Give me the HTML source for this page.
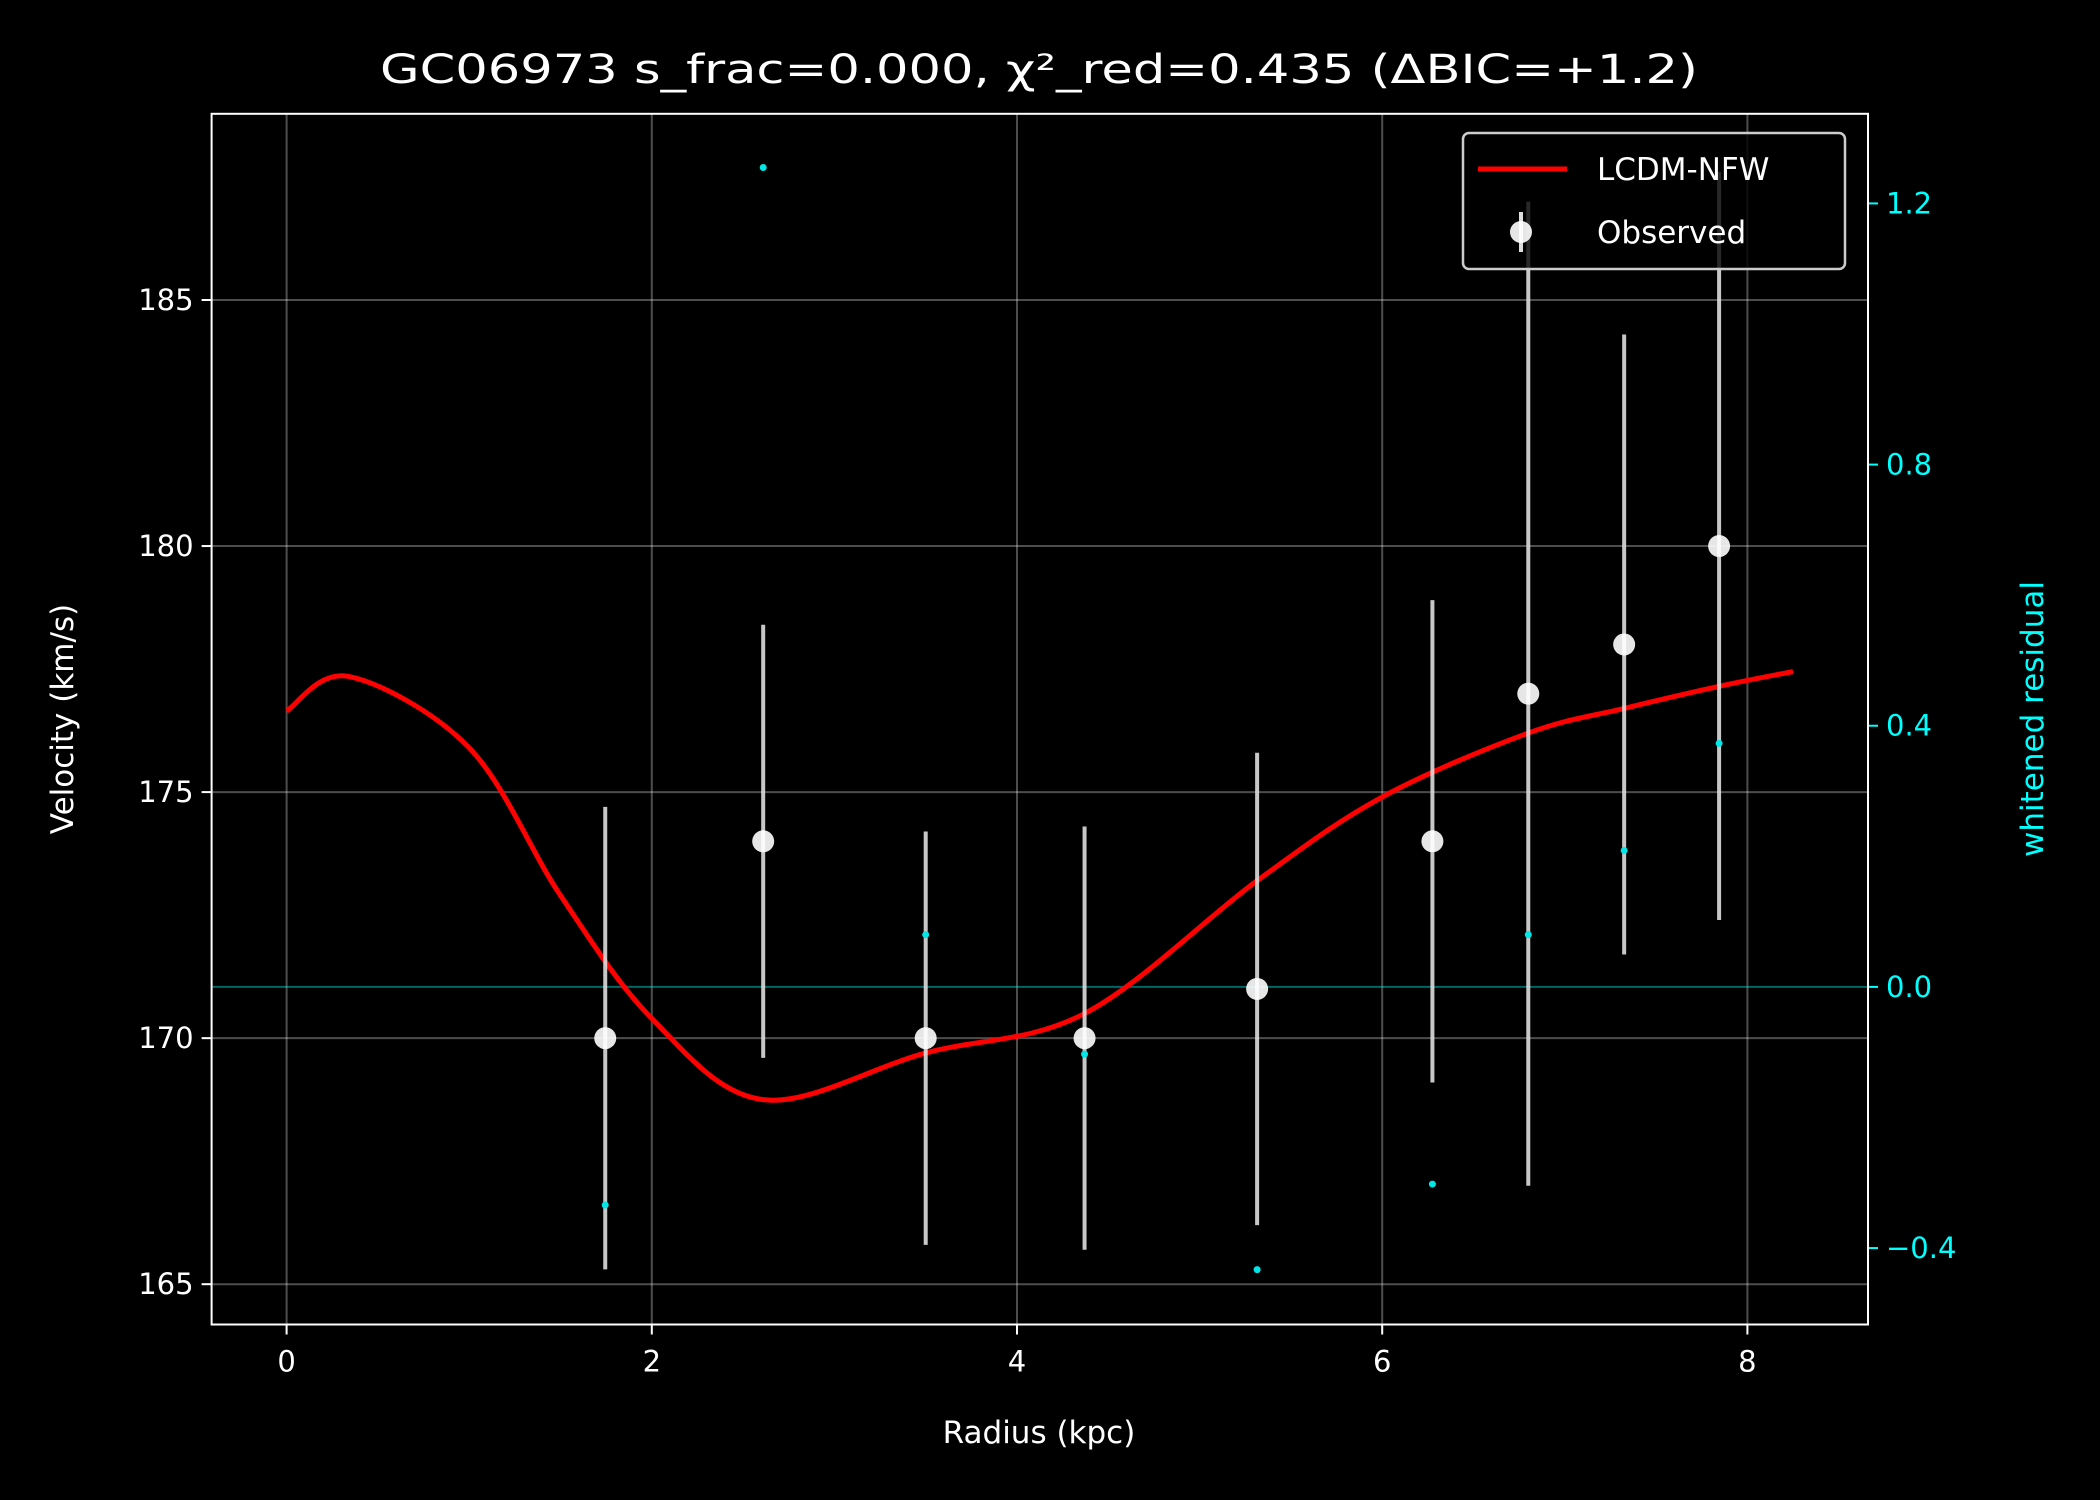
<!DOCTYPE html>
<html><head><meta charset="utf-8"><style>
html,body{margin:0;padding:0;background:#000;}
svg{display:block;font-family:"DejaVu Sans","Liberation Sans",sans-serif;}
</style></head><body>
<svg id="chart" width="2100" height="1500" viewBox="0 0 2100 1500" xmlns="http://www.w3.org/2000/svg">
<rect x="0" y="0" width="2100" height="1500" fill="#000"/>
<g id="grid"></g>
<g id="plot"></g>
<g id="axes"></g>
<text x="1039" y="83" fill="#fff" font-size="40" text-anchor="middle" textLength="1318" lengthAdjust="spacingAndGlyphs">GC06973  s_frac=0.000, χ²_red=0.435  (ΔBIC=+1.2)</text>
<text x="1039" y="1443" fill="#fff" font-size="31" text-anchor="middle">Radius (kpc)</text>
<text transform="translate(73,719) rotate(-90)" fill="#fff" font-size="31" text-anchor="middle">Velocity (km/s)</text>
<text transform="translate(2043,719) rotate(-90)" fill="#00ffff" font-size="31" text-anchor="middle">whitened residual</text>
<g>
<rect x="1463" y="133" width="382" height="136" rx="6" fill="#000" fill-opacity="0.8" stroke="#ccc" stroke-width="2.5"/>
<line x1="1478" y1="169" x2="1567" y2="169" stroke="#ff0000" stroke-width="5"/>
<text x="1597" y="180" fill="#fff" font-size="31">LCDM-NFW</text>
<line x1="1521" y1="212" x2="1521" y2="252" stroke="#ddd" stroke-width="4"/>
<circle cx="1521" cy="232" r="11" fill="#fff" fill-opacity="0.9"/>
<text x="1597" y="243" fill="#fff" font-size="31">Observed</text>
</g>
</svg>
<script>
const radii=[1.745,2.61,3.50,4.37,5.315,6.275,6.80,7.325,7.845];
const velocities=[170,174,170,170,171,174,177,178,180];
const errors=[4.7,4.4,4.2,4.3,4.8,4.9,10.0,6.3,7.6];
const residuals=[-0.334,1.255,0.08,-0.103,-0.433,-0.302,0.08,0.209,0.373];
const modelR=[0,0.34,1,1.5,2,2.61,3.5,4.37,5.315,6,6.8,7.325,7.845,8.25];
const modelV=[176.65,177.35,175.9,172.9,170.4,168.75,169.7,170.5,173.2,174.9,176.2,176.7,177.15,177.45];
const xTicks=[0,2,4,6,8];
const yTicks=[165,170,175,180,185];
const rTicks=[-0.4,0.0,0.4,0.8,1.2];
const rTickLabels=["−0.4","0.0","0.4","0.8","1.2"];

const L=211.6,R=1868,T=113.8,B=1324.5;
const sx=r=>286.6+r*182.6;
const sy=v=>300+(185-v)*49.21;
const sr=w=>986.9-w*652.9;
const NS="http://www.w3.org/2000/svg";
function mk(parent,tag,attrs){const e=document.createElementNS(NS,tag);for(const k in attrs)e.setAttribute(k,attrs[k]);document.getElementById(parent).appendChild(e);return e;}

xTicks.forEach(t=>{
 const g=mk('grid','line',{x1:sx(t),x2:sx(t),y1:T,y2:B,stroke:'#fff','stroke-opacity':0.3,'stroke-width':2});
 
 
 const tk=mk('axes','line',{x1:sx(t),x2:sx(t),y1:B,y2:B+10,stroke:'#fff','stroke-width':2});
 
 
 const tx=mk('axes','text',{x:sx(t),y:B+47,fill:'#fff','font-size':29,'text-anchor':'middle'});
 tx.textContent=t;
 
 
});
yTicks.forEach(t=>{
 const g=mk('grid','line',{x1:L,x2:R,y1:sy(t),y2:sy(t),stroke:'#fff','stroke-opacity':0.3,'stroke-width':2});
 
 
 const tk=mk('axes','line',{x1:L-10,x2:L,y1:sy(t),y2:sy(t),stroke:'#fff','stroke-width':2});
 
 
 const tx=mk('axes','text',{x:L-18,y:sy(t)+10,fill:'#fff','font-size':29,'text-anchor':'end'});
 tx.textContent=t;
 
 
});
rTicks.forEach((t,i)=>{
 const tk=mk('axes','line',{x1:R,x2:R+10,y1:sr(t),y2:sr(t),stroke:'#00ffff','stroke-width':2});
 
 
 const tx=mk('axes','text',{x:R+18,y:sr(t)+10,fill:'#00ffff','font-size':29});
 tx.textContent=rTickLabels[i];
 
 
});
const frame=mk('axes','rect',{x:L,y:T,width:R-L,height:B-T,fill:'none',stroke:'#fff','stroke-width':2});



const zl=mk('plot','line',{x1:L,x2:R,y1:sr(0),y2:sr(0),stroke:'#00ffff','stroke-opacity':0.4,'stroke-width':2});



// smooth model curve (Catmull-Rom)
const P=modelR.map((r,i)=>[sx(r),sy(modelV[i])]);
let d='M'+P[0][0]+','+P[0][1];
for(let i=0;i<P.length-1;i++){
 const p0=P[Math.max(0,i-1)],p1=P[i],p2=P[i+1],p3=P[Math.min(P.length-1,i+2)];
 const c1=[p1[0]+(p2[0]-p0[0])/6,p1[1]+(p2[1]-p0[1])/6];
 const c2=[p2[0]-(p3[0]-p1[0])/6,p2[1]-(p3[1]-p1[1])/6];
 d+=' C'+c1[0]+','+c1[1]+' '+c2[0]+','+c2[1]+' '+p2[0]+','+p2[1];
}
const curve=mk('plot','path',{d:d,fill:'none',stroke:'#ff0000','stroke-width':5});



radii.forEach((r,i)=>{
 const eb=mk('plot','line',{x1:sx(r),x2:sx(r),y1:sy(velocities[i]+errors[i]),y2:sy(velocities[i]-errors[i]),stroke:'#ddd','stroke-opacity':0.9,'stroke-width':4});
 
 
});
radii.forEach((r,i)=>{
 const c=mk('plot','circle',{cx:sx(r),cy:sy(velocities[i]),r:11,fill:'#fff','fill-opacity':0.9});
 
 
 const rc=mk('plot','circle',{cx:sx(r),cy:sr(residuals[i]),r:3.5,fill:'#00e5e5'});
 
 
});
</script>
</body></html>
